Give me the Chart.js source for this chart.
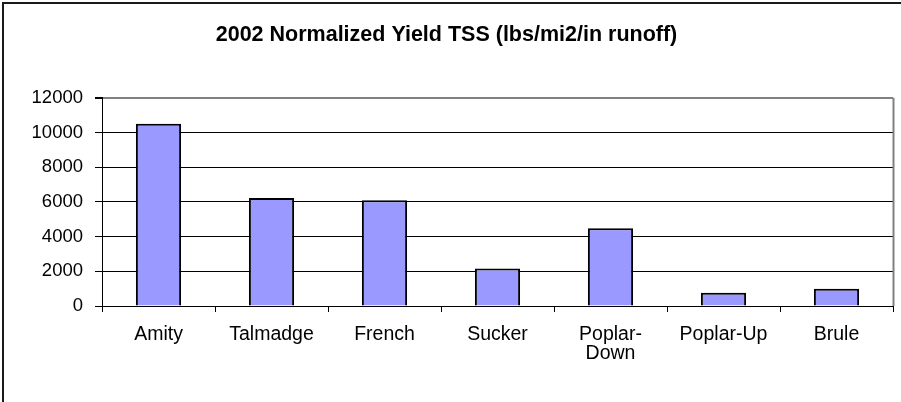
<!DOCTYPE html>
<html>
<head>
<meta charset="utf-8">
<script src="https://cdn.jsdelivr.net/npm/chart.js@4"></script>
<style>
  html, body { margin: 0; padding: 0; background: #fff; overflow: hidden; }
  #marco { position: absolute; left: 2px; top: 2px; width: 1000px; height: 500px; border: 2px solid #1a1a1a; }
  #caja { position: absolute; left: 0; top: 0; width: 901px; height: 402px; }
</style>
</head>
<body>
<div id="marco"></div>
<div id="caja"><canvas id="grafica" width="901" height="402"></canvas></div>
<script>
const sitios = ["Amity", "Talmadge", "French", "Sucker", ["Poplar-", "Down"], "Poplar-Up", "Brule"]
const rendimiento = [10500, 6220, 6100, 2160, 4480, 770, 990]
const marcasY = [0, 2000, 4000, 6000, 8000, 10000, 12000]
const titulo = "2002 Normalized Yield TSS (lbs/mi2/in runoff)"

// borde gris a la derecha del area de trazado
const bordeDerecho = {
  id: "bordeDerecho",
  afterDraw(chart) {
    let a = chart.chartArea
    let ctx = chart.ctx
    ctx.save()
    ctx.strokeStyle = "#808080"
    ctx.lineWidth = 2
    ctx.beginPath()
    ctx.moveTo(Math.round(a.right) + 0.5, a.top)
    ctx.lineTo(Math.round(a.right) + 0.5, a.bottom)
    ctx.stroke()
    ctx.restore()
  }
}

let ctx = document.getElementById("grafica").getContext("2d")
new Chart(ctx, {
  type: "bar",
  data: {
    labels: sitios,
    datasets: [{
      data: rendimiento,
      backgroundColor: "#9999FF",
      borderColor: "#000000",
      borderWidth: 2,
      categoryPercentage: 0.8,
      barPercentage: 0.5
    }]
  },
  options: {
    responsive: false,
    animation: false,
    layout: { padding: { left: 0, right: 8, top: 0, bottom: 0 } },
    plugins: {
      legend: { display: false },
      tooltip: { enabled: false },
      title: {
        display: true,
        text: titulo,
        color: "#000",
        font: { family: "'Liberation Sans', Arial, sans-serif", size: 21.5, weight: "bold", lineHeight: 1.2 },
        padding: { top: 22, bottom: 50 }
      }
    },
    scales: {
      x: {
        afterFit(s) { s.height = 96 },
        grid: { drawOnChartArea: false, offset: true, tickLength: 6, color: "#000" },
        border: { color: "#000", width: 1 },
        ticks: {
          color: "#000",
          padding: 14,
          maxRotation: 0,
          autoSkip: false,
          font: { family: "'Liberation Sans', Arial, sans-serif", size: 19.5, lineHeight: 0.93 }
        }
      },
      y: {
        min: 0,
        max: 12000,
        afterFit(s) { s.width = 102 },
        afterBuildTicks(s) { s.ticks = marcasY.map(v => ({ value: v })) },
        grid: {
          color: c => (c.tick && c.tick.value === 12000 ? "#808080" : "#000"),
          lineWidth: c => (c.tick && c.tick.value === 12000 ? 2 : 1),
          tickColor: "#000",
          tickLength: 7
        },
        border: { color: "#000", width: 1 },
        ticks: {
          color: "#000",
          padding: 12,
          callback: v => String(v),
          font: { family: "'Liberation Sans', Arial, sans-serif", size: 18.5 }
        }
      }
    }
  },
  plugins: [bordeDerecho]
})
</script>
</body>
</html>
